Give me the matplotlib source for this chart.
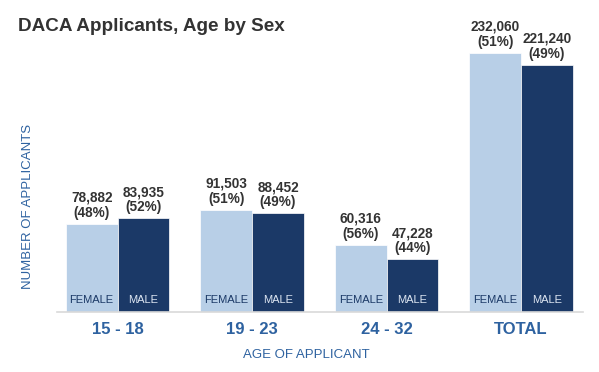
import numpy as np
import matplotlib.pyplot as plt

groups = ['15 - 18', '19 - 23', '24 - 32', 'TOTAL']
female = [78882, 91503, 60316, 232060]
male = [83935, 88452, 47228, 221240]
female_pct = [48, 51, 56, 51]
male_pct = [52, 49, 44, 49]

light = '#b8cfe7'
dark = '#1b3967'
blue_txt = '#2e62a0'

plt.rcParams['font.family'] = ['Liberation Sans', 'DejaVu Sans']

fig = plt.figure(figsize=(5.99, 3.72), dpi=100)
ax = fig.add_axes([0.0952, 0.1613, 0.8781, 0.75])

x = np.arange(len(groups))
w = 0.385
ax.bar(x - w / 2, female, w, color=light, edgecolor='white', linewidth=0.5)
ax.bar(x + w / 2, male, w, color=dark, edgecolor='white', linewidth=0.5)

for i in range(len(groups)):
    ax.annotate(f'{female[i]:,}\n({female_pct[i]}%)', (x[i] - w / 2, female[i]),
                xytext=(0, 3), textcoords='offset points', ha='center', va='bottom',
                fontsize=9.8, fontweight='bold', color='#333333', linespacing=1.1)
    ax.annotate(f'{male[i]:,}\n({male_pct[i]}%)', (x[i] + w / 2, male[i]),
                xytext=(0, 3), textcoords='offset points', ha='center', va='bottom',
                fontsize=9.8, fontweight='bold', color='#333333', linespacing=1.1)
    ax.annotate('FEMALE', (x[i] - w / 2, 0), xytext=(0, 5), textcoords='offset points',
                ha='center', va='bottom', fontsize=8, color=dark)
    ax.annotate('MALE', (x[i] + w / 2, 0), xytext=(0, 5), textcoords='offset points',
                ha='center', va='bottom', fontsize=8, color='#dde6f2')

ax.set_xlim(-0.45, 3.46)
ax.set_ylim(0, 250000)
ax.set_yticks([])
ax.set_xticks(x)
ax.set_xticklabels(groups, fontsize=12, fontweight='bold', color=blue_txt)
ax.tick_params(axis='x', length=0, pad=7.5)
for s in ['top', 'right', 'left']:
    ax.spines[s].set_visible(False)
ax.spines['bottom'].set_color('#d9d9d9')
ax.spines['bottom'].set_linewidth(1.2)

fig.text(0.512, 0.045, 'AGE OF APPLICANT', ha='center', va='center', fontsize=9.5, color=blue_txt)
fig.text(0.047, 0.446, 'NUMBER OF APPLICANTS', ha='center', va='center', rotation=90,
         fontsize=9.5, color=blue_txt)
fig.text(0.03, 0.93, 'DACA Applicants, Age by Sex', ha='left', va='center',
         fontsize=13.6, fontweight='bold', color='#333333')

fig.savefig('out.png', dpi=100)
